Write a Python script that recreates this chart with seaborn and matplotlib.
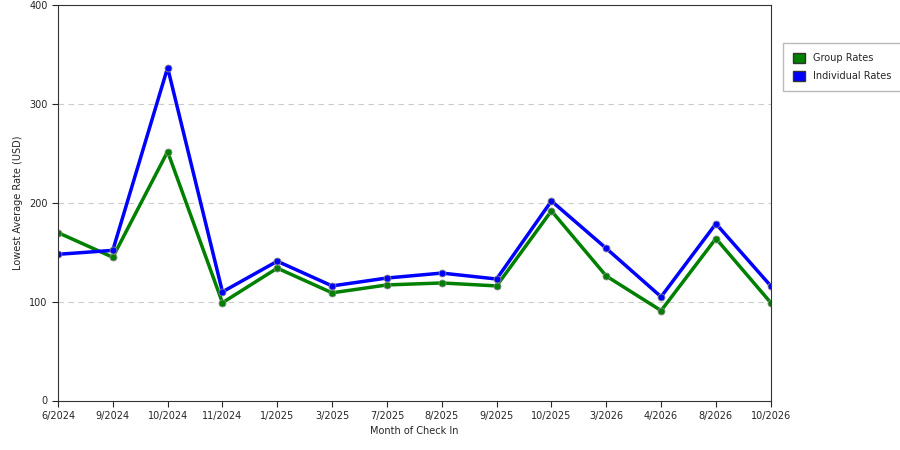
import matplotlib
matplotlib.use("Agg")
import matplotlib.pyplot as plt
import seaborn as sns
import pandas as pd

months = ["6/2024","9/2024","10/2024","11/2024","1/2025","3/2025","7/2025","8/2025","9/2025","10/2025","3/2026","4/2026","8/2026","10/2026"]
group_rates = [170,145,252,99,134,109,117,119,116,192,126,91,164,99]
individual_rates = [148,152,337,110,141,116,124,129,123,202,154,105,179,116]

df = pd.DataFrame({"x": list(range(len(months)))*2,
                   "rate": group_rates + individual_rates,
                   "series": ["Group Rates"]*len(months) + ["Individual Rates"]*len(months)})

sns.set_style("white")
plt.rcParams['font.family'] = ['DejaVu Sans']
fig = plt.figure(figsize=(9, 4.5), dpi=100)
ax = fig.add_axes([0.0644, 0.11, 0.792, 0.878])
palette = {"Group Rates": "#008000", "Individual Rates": "#0000ff"}
sns.lineplot(data=df, x="x", y="rate", hue="series", palette=palette, lw=2.5,
             marker="o", markersize=5, markeredgecolor="#888888", markeredgewidth=0.6, ax=ax, legend=False)
ax.set_xlim(0, len(months)-1)
ax.set_ylim(0, 400)
ax.set_xticks(range(len(months)))
ax.set_xticklabels(months, fontsize=7)
ax.set_yticks([0,100,200,300,400])
ax.tick_params(axis='y', labelsize=7, length=4, left=True)
ax.tick_params(axis='x', length=4, bottom=True)
for y in [100,200,300]:
    ax.axhline(y, color="#cccccc", lw=0.8, ls=(0,(5,4)), zorder=0)
ax.set_xlabel("Month of Check In", fontsize=7)
ax.set_ylabel("Lowest Average Rate (USD)", fontsize=7)
for s in ax.spines.values():
    s.set_color("#333333"); s.set_linewidth(0.8)
from matplotlib.patches import Patch
handles = [Patch(facecolor="#008000", edgecolor="#333333", label="Group Rates"),
           Patch(facecolor="#0000ff", edgecolor="#333333", label="Individual Rates")]
fig.legend(handles=handles, loc="upper left", bbox_to_anchor=(0.865, 0.915), fontsize=7,
           frameon=True, fancybox=False, edgecolor="#aaaaaa", handlelength=1.2, handleheight=1.2,
           borderpad=1.0, labelspacing=0.8)
fig.savefig("out.png", dpi=100)
